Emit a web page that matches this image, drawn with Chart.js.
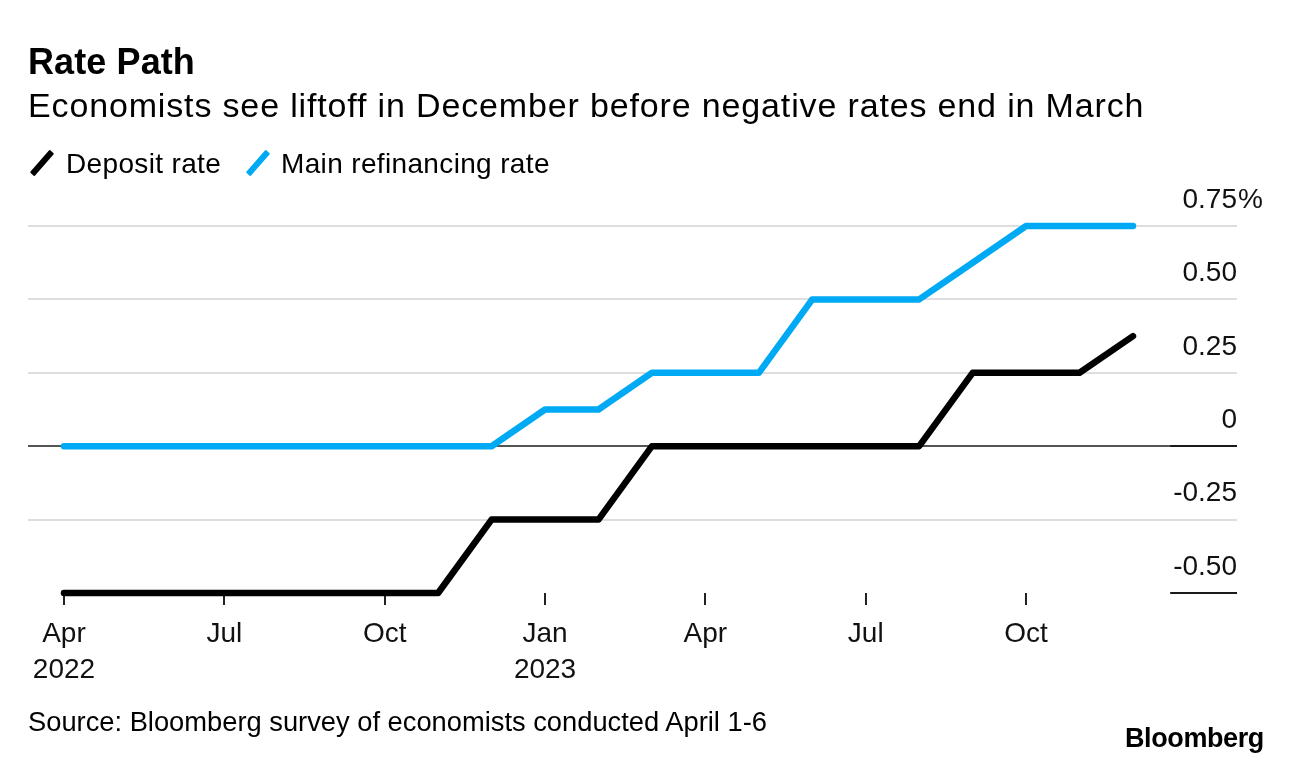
<!DOCTYPE html>
<html>
<head>
<meta charset="utf-8">
<script src="https://cdn.jsdelivr.net/npm/chart.js@4.4.1/dist/chart.umd.min.js"></script>
<style>
  html, body { margin: 0; padding: 0; background: #fff; }
  body { width: 1292px; height: 764px; position: relative; overflow: hidden; font-family: "Liberation Sans", Arial, Helvetica, sans-serif; color: #000; }
  #wrap { position: absolute; left: 0; top: 0; width: 1292px; height: 764px; }
  .t { position: absolute; white-space: nowrap; line-height: 1; }
  #title { left: 28px; top: 44px; font-size: 36px; font-weight: bold; letter-spacing: 0.1px; }
  #subtitle { left: 28px; top: 88px; font-size: 34px; letter-spacing: 0.85px; }
  .lg { top: 150px; font-size: 28px; letter-spacing: 0.35px; }
  .sw { position: absolute; width: 30px; height: 6px; transform: rotate(-49deg); border-radius: 1px; }
  #source { left: 28px; top: 708px; font-size: 27.3px; }
  #logo { left: 1125px; top: 725px; font-size: 27px; font-weight: bold; letter-spacing: -0.4px; }
</style>
</head>
<body>
<div id="wrap"><canvas id="c" width="1292" height="764"></canvas></div>
<div class="t" id="title">Rate Path</div>
<div class="t" id="subtitle">Economists see liftoff in December before negative rates end in March</div>
<div class="sw" style="left:26.5px; top:160px; background:#000;"></div>
<div class="t lg" style="left:66px;">Deposit rate</div>
<div class="sw" style="left:243px; top:160px; background:#00a9f4;"></div>
<div class="t lg" style="left:281px;">Main refinancing rate</div>
<div class="t" id="source">Source: Bloomberg survey of economists conducted April 1-6</div>
<div class="t" id="logo">Bloomberg</div>
<script>
// ---- data ----
const months = ['2022-04','2022-05','2022-06','2022-07','2022-08','2022-09','2022-10','2022-11','2022-12',
                '2023-01','2023-02','2023-03','2023-04','2023-05','2023-06','2023-07','2023-08','2023-09','2023-10','2023-11','2023-12'];
const depositRate = [-0.5,-0.5,-0.5,-0.5,-0.5,-0.5,-0.5,-0.5,-0.25,
                     -0.25,-0.25,0,0,0,0,0,0,0.25,0.25,0.25,0.375];
const refiRate = [0,0,0,0,0,0,0,0,0,
                  0.125,0.125,0.25,0.25,0.25,0.5,0.5,0.5,0.625,0.75,0.75,0.75];
const xTickIdx = [0,3,6,9,12,15,18];
const xTickLabels = [['Apr','2022'],'Jul','Oct',['Jan','2023'],'Apr','Jul','Oct'];
const yTicks = [-0.5,-0.25,0,0.25,0.5,0.75];
const yTickLabels = ['-0.50','-0.25','0','0.25','0.50','0.75'];
const yUnit = '%';
const seriesNames = ['Deposit rate','Main refinancing rate'];

const FONT = '"Liberation Sans", Arial, Helvetica, sans-serif';
const BLUE = '#00a9f4';

const toPts = arr => arr.map((v, i) => ({x: i, y: v}));

const extras = {
  id: 'extras',
  afterDraw(chart) {
    const ctx = chart.ctx;
    const y = chart.scales.y;
    const right = chart.chartArea.right;
    ctx.save();
    ctx.letterSpacing = '0px';
    ctx.font = '28px ' + FONT;
    const w = Math.max(...yTickLabels.map(l => ctx.measureText(l).width));
    ctx.strokeStyle = '#1a1a1a';
    ctx.lineWidth = 2;
    [0, -0.5].forEach(v => {
      const py = Math.round(y.getPixelForValue(v));
      ctx.beginPath();
      ctx.moveTo(right - w - 3, py);
      ctx.lineTo(right, py);
      ctx.stroke();
    });
    ctx.fillStyle = '#111';
    ctx.textAlign = 'left';
    ctx.textBaseline = 'middle';
    ctx.fillText(yUnit, right + 1, y.getPixelForValue(yTicks[yTicks.length - 1]) - 26);
    ctx.restore();
  }
};

new Chart(document.getElementById('c'), {
  type: 'line',
  data: {
    datasets: [
      { label: seriesNames[0], data: toPts(depositRate), borderColor: '#000', backgroundColor: '#000',
        borderWidth: 6.5, pointRadius: 0, tension: 0, borderCapStyle: 'round', borderJoinStyle: 'round', clip: false, order: 2 },
      { label: seriesNames[1], data: toPts(refiRate), borderColor: BLUE, backgroundColor: BLUE,
        borderWidth: 6.5, pointRadius: 0, tension: 0, borderCapStyle: 'round', borderJoinStyle: 'round', clip: false, order: 1 }
    ]
  },
  options: {
    responsive: false,
    animation: false,
    devicePixelRatio: 1,
    layout: { padding: { left: 28, right: 55, top: 226, bottom: 71 } },
    plugins: { legend: { display: false }, tooltip: { enabled: false }, title: { display: false } },
    scales: {
      x: {
        type: 'linear',
        min: -0.673,
        max: 21.946,
        afterBuildTicks: s => { s.ticks = xTickIdx.map(v => ({ value: v })); },
        afterFit: s => { s.height = 100; },
        border: { display: false },
        grid: { drawOnChartArea: false, drawTicks: true, tickLength: 12, color: '#222', lineWidth: 2 },
        ticks: {
          autoSkip: false, maxRotation: 0, padding: 11, color: '#111',
          font: { family: FONT, size: 28, lineHeight: 1.3 },
          callback: v => { const i = xTickIdx.indexOf(v); return i >= 0 ? xTickLabels[i] : ''; }
        }
      },
      y: {
        position: 'right',
        min: -0.5,
        max: 0.75,
        afterBuildTicks: s => { s.ticks = yTicks.map(v => ({ value: v })); },
        afterFit: s => { s.width = 0; },
        border: { display: false },
        grid: {
          drawTicks: false,
          lineWidth: 2,
          color: c => c.tick && c.tick.value === 0 ? '#555' : (c.tick && c.tick.value === -0.5 ? 'rgba(0,0,0,0)' : '#dedede')
        },
        ticks: {
          mirror: true, padding: 0, labelOffset: -26, color: '#111',
          font: { family: FONT, size: 28 },
          callback: v => { const i = yTicks.indexOf(v); return i >= 0 ? yTickLabels[i] : ''; }
        }
      }
    }
  },
  plugins: [extras]
});
</script>
</body>
</html>
